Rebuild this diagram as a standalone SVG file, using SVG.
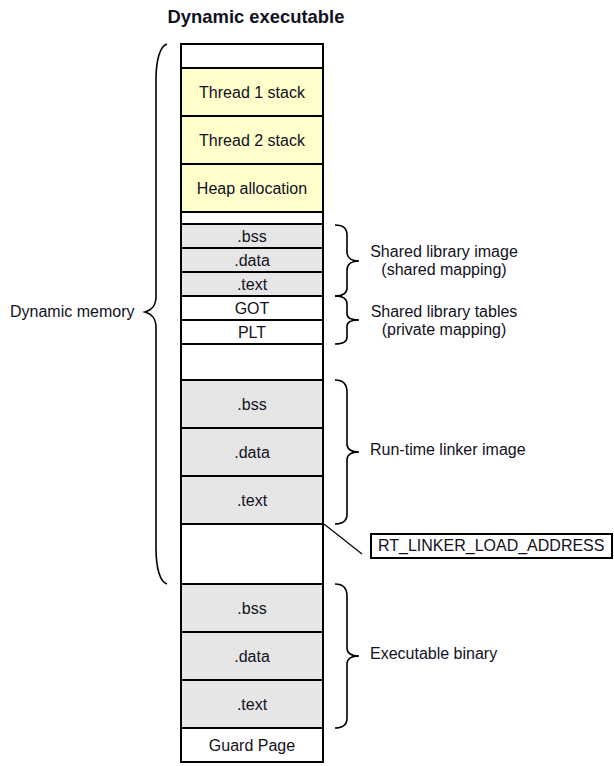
<svg xmlns="http://www.w3.org/2000/svg" width="614" height="766" viewBox="0 0 614 766">
<style>
text{font-family:"Liberation Sans",Arial,sans-serif;font-size:16px;fill:#111122}
.c{text-anchor:middle}
.w{fill:#ffffff;stroke:#000;stroke-width:2}
.y{fill:#ffffcc;stroke:#000;stroke-width:2}
.g{fill:#e6e6e6;stroke:#000;stroke-width:2}
.br{fill:none;stroke:#000;stroke-width:1.6}
</style>
<rect width="614" height="766" fill="#fff"/>
<text x="256" y="23" class="c" style="font-weight:bold;font-size:18.4px">Dynamic executable</text>
<g id="col">
<rect class="w" x="181" y="44" width="142" height="24"/>
<g id="t1"><rect class="y" x="181" y="68" width="142" height="48"/><text x="252" y="98" class="c">Thread 1 stack</text></g>
<g id="t2"><rect class="y" x="181" y="116" width="142" height="48"/><text x="252" y="146" class="c">Thread 2 stack</text></g>
<g id="heap"><rect class="y" x="181" y="164" width="142" height="48"/><text x="252" y="194" class="c">Heap allocation</text></g>
<rect class="w" x="181" y="212" width="142" height="12"/>
<g id="sbss"><rect class="g" x="181" y="224" width="142" height="24"/><text x="252" y="242" class="c">.bss</text></g>
<g id="sdata"><rect class="g" x="181" y="248" width="142" height="24"/><text x="252" y="266" class="c">.data</text></g>
<g id="stext"><rect class="g" x="181" y="272" width="142" height="24"/><text x="252" y="290" class="c">.text</text></g>
<g id="got"><rect class="w" x="181" y="296" width="142" height="24"/><text x="252" y="314" class="c">GOT</text></g>
<g id="plt"><rect class="w" x="181" y="320" width="142" height="24"/><text x="252" y="338" class="c">PLT</text></g>
<rect class="w" x="181" y="344" width="142" height="36"/>
<g id="rbss"><rect class="g" x="181" y="380" width="142" height="48"/><text x="252" y="410" class="c">.bss</text></g>
<g id="rdata"><rect class="g" x="181" y="428" width="142" height="48"/><text x="252" y="458" class="c">.data</text></g>
<g id="rtext"><rect class="g" x="181" y="476" width="142" height="48"/><text x="252" y="506" class="c">.text</text></g>
<rect class="w" x="181" y="524" width="142" height="60"/>
<g id="ebss"><rect class="g" x="181" y="584" width="142" height="48"/><text x="252" y="614" class="c">.bss</text></g>
<g id="edata"><rect class="g" x="181" y="632" width="142" height="48"/><text x="252" y="662" class="c">.data</text></g>
<g id="etext"><rect class="g" x="181" y="680" width="142" height="48"/><text x="252" y="710" class="c">.text</text></g>
<g id="guard"><rect class="w" x="181" y="728" width="142" height="34"/><text x="252" y="751" class="c">Guard Page</text></g>
</g>
<g id="connectors">
<path class="br" d="M167,44 C160,46 156,60 156,80 L156,296 C156,306 152,310 145,312 C152,314 156,318 156,328 L156,548 C156,568 160,582 167,584"/>
<path class="br" d="M335,225 C342,225 347,227 347,235 L347,252 C347,258 352,261 359,261 C352,261 347,264 347,270 L347,288 C347,294 342,296 335,296"/>
<path class="br" d="M335,296 C342,296 347,298 347,304 L347,314 C347,318 352,320 359,320 C352,320 347,322 347,326 L347,337 C347,342 342,344 335,344"/>
<path class="br" d="M335,380 C342,380 347,383 347,392 L347,444 C347,450 352,452 359,452 C352,452 347,454 347,460 L347,514 C347,521 342,524 335,524"/>
<path class="br" d="M335,584 C342,584 347,587 347,596 L347,648 C347,654 352,656 359,656 C352,656 347,658 347,664 L347,718 C347,725 342,728 335,728"/>
<line x1="324" y1="524" x2="362" y2="554" stroke="#000" stroke-width="1.2"/>
</g>
<g id="labels">
<text x="10" y="317">Dynamic memory</text>
<text x="444" y="257" class="c">Shared library image</text>
<text x="444" y="275" class="c">(shared mapping)</text>
<text x="444" y="317" class="c">Shared library tables</text>
<text x="444" y="335" class="c">(private mapping)</text>
<text x="370" y="455">Run-time linker image</text>
<text x="370" y="659">Executable binary</text>
</g>
<g id="rtaddr"><rect x="371" y="534" width="241" height="24" fill="#fff" stroke="#000" stroke-width="2"/><text x="378" y="551">RT_LINKER_LOAD_ADDRESS</text></g>
</svg>
